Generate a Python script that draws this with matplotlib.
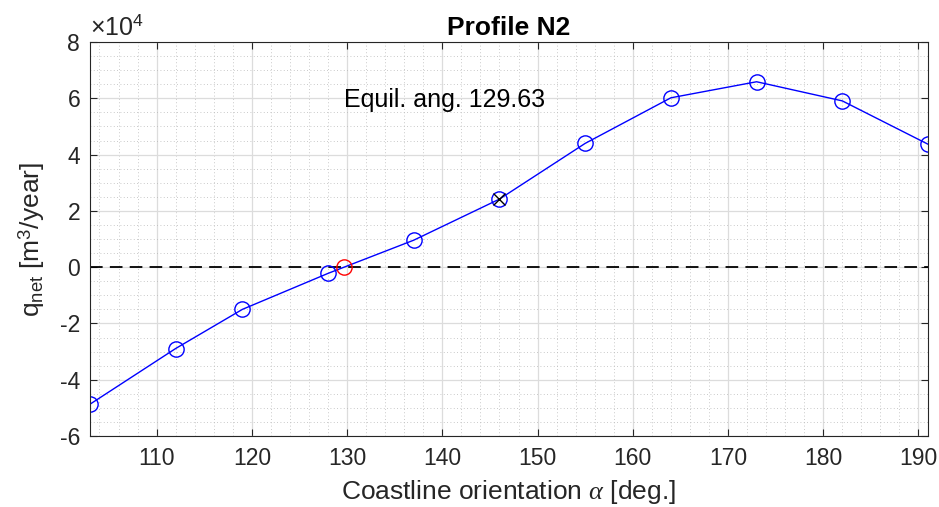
import matplotlib
matplotlib.use('Agg')
import matplotlib.pyplot as plt
import numpy as np
from matplotlib.ticker import MultipleLocator, FuncFormatter

plt.rcParams['font.family'] = ['Liberation Sans', 'DejaVu Sans']
plt.rcParams['mathtext.fontset'] = 'custom'
plt.rcParams['mathtext.rm'] = 'Liberation Sans'
plt.rcParams['mathtext.it'] = 'Liberation Serif:italic'

# data
angle = [103, 112, 119, 128, 137, 146, 155, 164, 173, 182, 191]
qnet = [-48700, -28900, -15000, -2200, 9600, 24200, 44000, 60200, 65900, 59100, 43700]
equil_angle = 129.63
cross_angle = 146
cross_q = 24200

fig = plt.figure(figsize=(9.39, 5.07), dpi=100)
ax = fig.add_axes([0.0958, 0.140, 0.8925, 0.777])

ax.plot([103, 191], [0, 0], '--', color='k', lw=1.3, dashes=(7, 4))
ax.plot(angle, qnet, '-o', color='b', lw=1, mfc='none', ms=11, mew=1)
ax.plot(equil_angle, 0, 'o', color='r', mfc='none', ms=11, mew=1)
ax.plot(cross_angle, cross_q, 'x', color='k', ms=9, mew=1)
ax.text(equil_angle, 0.9 * max(qnet), 'Equil. ang. %.2f' % equil_angle,
        fontsize=18, va='center', ha='left', color='k')

ax.set_xlim(103, 191)
ax.set_ylim(-60000, 80000)
ax.xaxis.set_major_locator(MultipleLocator(10))
ax.xaxis.set_minor_locator(MultipleLocator(2))
ax.yaxis.set_major_locator(MultipleLocator(20000))
ax.yaxis.set_minor_locator(MultipleLocator(5000))
ax.yaxis.set_major_formatter(FuncFormatter(lambda v, p: '%d' % round(v / 1e4)))

ax.grid(which='major', color='#dcdcdc', lw=0.9, ls='-')
ax.grid(which='minor', color='#b8b8b8', lw=0.6, ls=(0, (1, 3)))
ax.set_axisbelow(True)

for s in ax.spines.values():
    s.set_color('#262626')
    s.set_linewidth(0.8)
ax.tick_params(which='major', direction='in', length=5, top=True, right=True,
               colors='#262626', labelsize=16.5, labelcolor='#262626', width=0.8)
ax.tick_params(which='minor', length=0, top=True, right=True)
ax.tick_params(axis='x', pad=8)
ax.tick_params(axis='y', pad=7)

ax.set_xlabel(r'Coastline orientation $\alpha$ [deg.]', fontsize=19, color='#262626', labelpad=6)
ax.set_ylabel(r'q$_{\rm net}$ [m$^3$/year]', fontsize=19, color='#262626', labelpad=9)
ax.set_title('Profile N2', fontsize=19, fontweight='bold', pad=5)
ax.text(0.0, 1.005, r'$\times$10$^4$', transform=ax.transAxes, fontsize=18,
        color='#262626', ha='left', va='bottom')

fig.savefig('out.png', dpi=100)
